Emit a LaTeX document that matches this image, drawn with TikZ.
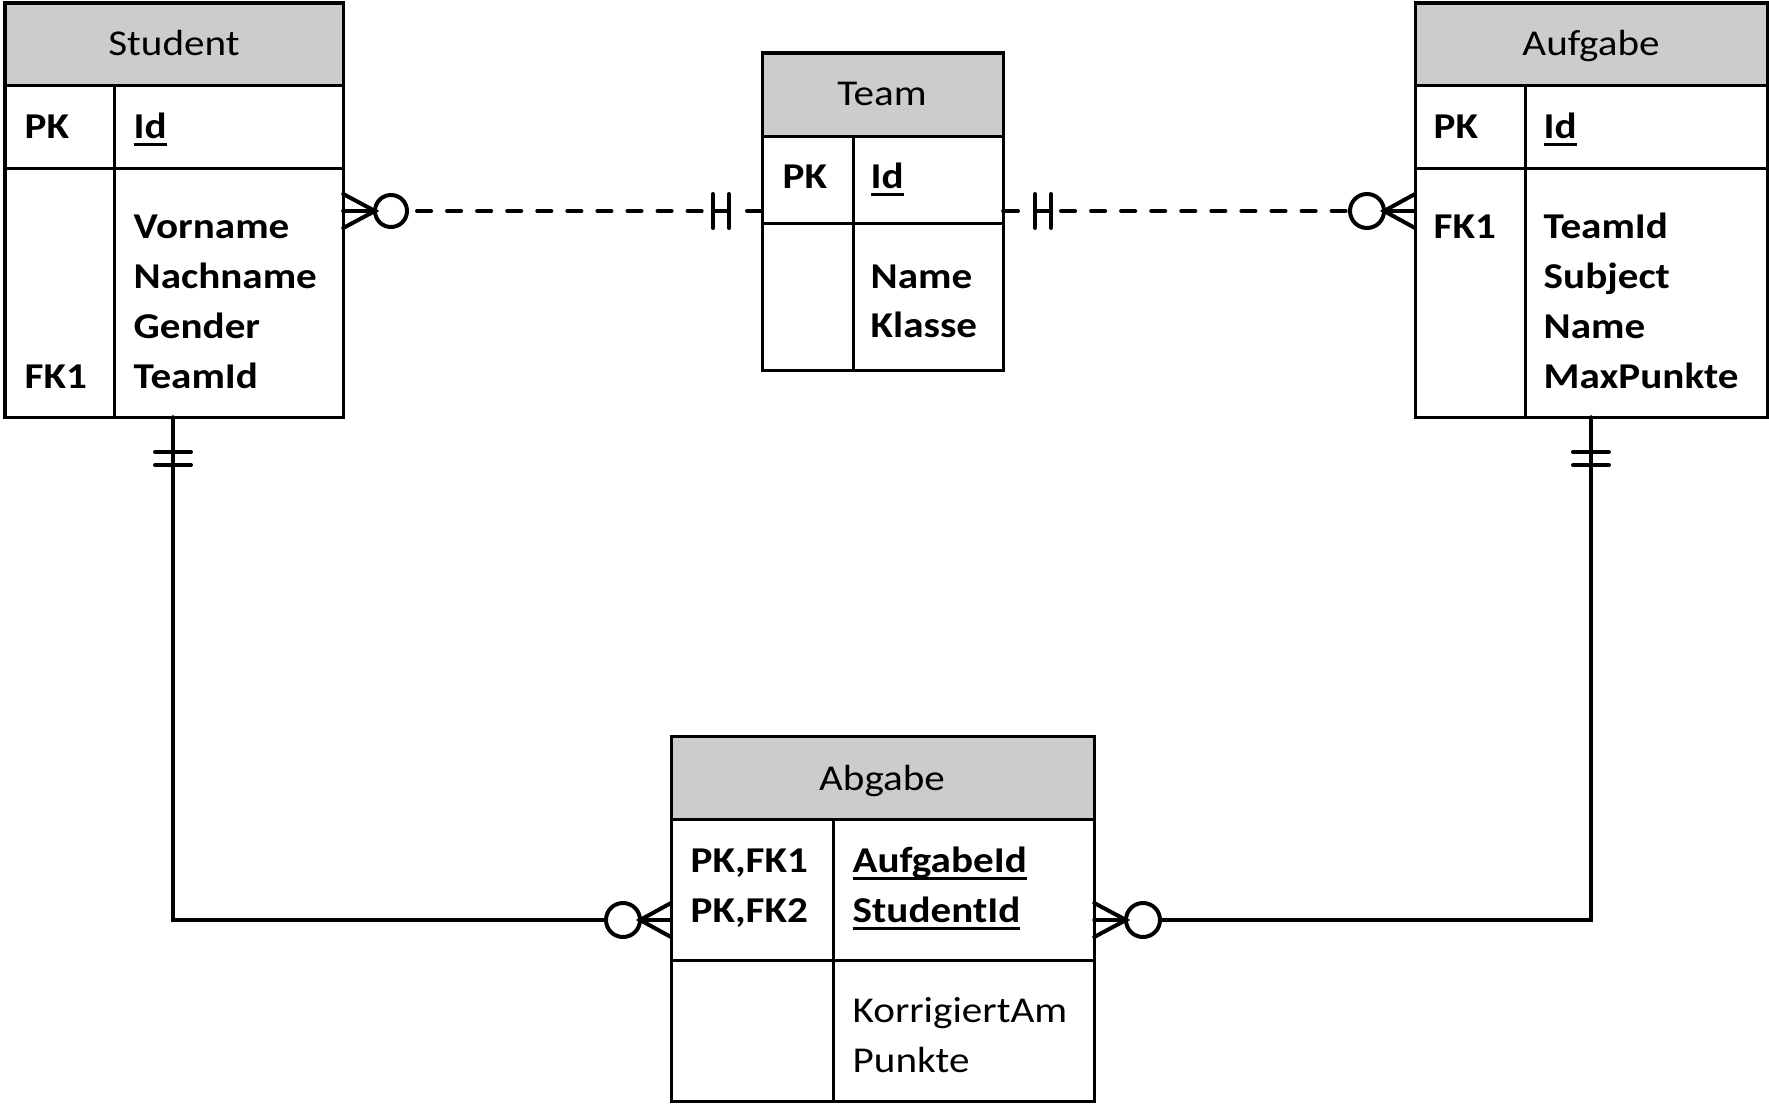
\documentclass[tikz,border=0pt]{standalone}
\usepackage{fontspec}
\setmainfont{Carlito}[FakeStretch=1.13]
\definecolor{hdrgray}{HTML}{CCCCCC}
\newcommand\myul[1]{\setbox0\hbox{#1}\rlap{\rule[-2.3pt]{\wd0}{0.75pt}}\box0}
\begin{document}
\begin{tikzpicture}[x=0.01cm,y=-0.01cm,
  frame/.style={draw=black, line width=0.03cm, outer sep=0pt, inner sep=0pt, anchor=north west},
  hdr/.style={fill=hdrgray, draw=black, line width=0.03cm, outer sep=0pt, inner sep=0pt, anchor=north west},
  sep/.style={line width=0.03cm},
  title/.style={anchor=base, inner sep=0pt, font=\fontsize{10.35pt}{12pt}\selectfont},
  key/.style={anchor=base west, inner sep=0pt, font=\fontsize{10.35pt}{12pt}\selectfont\bfseries},
  plain/.style={anchor=base west, inner sep=0pt, font=\fontsize{10.35pt}{12pt}\selectfont},
  conn/.style={line width=0.04cm, line cap=round},
  dconn/.style={line width=0.04cm, line cap=round, dash pattern=on 4pt off 4.55pt}
]
\useasboundingbox (0,0) rectangle (1769,1106);

% ---------- Student ----------
\node[hdr, minimum width=3.38cm, minimum height=0.82cm] (studenth) at (5,3) {};
\node[frame, minimum width=3.38cm, minimum height=4.14cm] (student) at (5,3) {};
\draw[sep] (5,168) -- (343,168);
\draw[sep] (114,85) -- (114,417);
\node[title] (studentt) at (174,55) {Student};
\node[key] (s1) at (24,138) {PK};
\node[key] (s2) at (133,138) {\myul{Id}};
\node[key] (s3) at (133,238) {Vorname};
\node[key] (s4) at (133,288) {Nachname};
\node[key] (s5) at (133,338) {Gender};
\node[key] (s6) at (24,388) {FK1};
\node[key] (s7) at (133,388) {TeamId};

% ---------- Team ----------
\node[hdr, minimum width=2.41cm, minimum height=0.83cm] (teamh) at (762,53) {};
\node[frame, minimum width=2.41cm, minimum height=3.17cm] (team) at (762,53) {};
\draw[sep] (762,223) -- (1003,223);
\draw[sep] (853,136) -- (853,370);
\node[title] (teamt) at (882,105) {Team};
\node[key] (t1) at (782,188) {PK};
\node[key] (t2) at (870,188) {\myul{Id}};
\node[key] (t3) at (870,288) {Name};
\node[key] (t4) at (870,337) {Klasse};

% ---------- Aufgabe ----------
\node[hdr, minimum width=3.52cm, minimum height=0.82cm] (aufgabeh) at (1415,3) {};
\node[frame, minimum width=3.52cm, minimum height=4.14cm] (aufgabe) at (1415,3) {};
\draw[sep] (1415,168) -- (1767,168);
\draw[sep] (1525,85) -- (1525,417);
\node[title] (aufgabet) at (1591,55) {Aufgabe};
\node[key] (a1) at (1433,138) {PK};
\node[key] (a2) at (1543,138) {\myul{Id}};
\node[key] (a3) at (1433,238) {FK1};
\node[key] (a4) at (1543,238) {TeamId};
\node[key] (a5) at (1543,288) {Subject};
\node[key] (a6) at (1543,338) {Name};
\node[key] (a7) at (1543,388) {MaxPunkte};

% ---------- Abgabe ----------
\node[hdr, minimum width=4.23cm, minimum height=0.83cm] (abgabeh) at (671,736) {};
\node[frame, minimum width=4.23cm, minimum height=3.65cm] (abgabe) at (671,736) {};
\draw[sep] (671,960) -- (1094,960);
\draw[sep] (833,819) -- (833,1101);
\node[title] (abgabet) at (882,790) {Abgabe};
\node[key] (b1) at (690,872) {PK,FK1};
\node[key] (b2) at (690,922) {PK,FK2};
\node[key] (b3) at (852,872) {\myul{AufgabeId}};
\node[key] (b4) at (852,922) {\myul{StudentId}};
\node[plain] (b5) at (852,1022) {KorrigiertAm};
\node[plain] (b6) at (852,1072) {Punkte};

% ---------- connector end points ----------
\coordinate (stR) at (student.east |- 0,211);
\coordinate (tmL) at (team.west |- 0,211);
\coordinate (tmR) at (team.east |- 0,211);
\coordinate (auL) at (aufgabe.west |- 0,211);
\coordinate (stB) at (student.south -| 173,0);
\coordinate (auB) at (aufgabe.south -| 1591,0);
\coordinate (abL) at (abgabe.west |- 0,920);
\coordinate (abR) at (abgabe.east |- 0,920);

% Student -- Team (zero-or-many : one-and-only-one), dashed
\draw[conn] (stR) -- (375,211);
\draw[conn] (stR |- 0,194) -- (375,211) -- (stR |- 0,228);
\draw[conn] (391,211) circle[radius=0.16cm];
\draw[dconn] (417,211) -- (705,211);
\draw[conn] (713,211) -- (729,211);
\draw[conn] (713,194) -- (713,228);
\draw[conn] (729,194) -- (729,228);
\draw[conn] (747,211) -- (tmL);

% Team -- Aufgabe
\draw[conn] (tmR) -- (1018,211);
\draw[conn] (1035,211) -- (1051,211);
\draw[conn] (1035,194) -- (1035,228);
\draw[conn] (1051,194) -- (1051,228);
\draw[dconn] (1061,211) -- (1350,211);
\draw[conn] (1367,211) circle[radius=0.17cm];
\draw[conn] (1384,211) -- (auL);
\draw[conn] (auL |- 0,194) -- (1384,211) -- (auL |- 0,228);

% Student -- Abgabe
\draw[conn] (stB) -- (173,920) -- (606,920);
\draw[conn] (155,452) -- (191,452);
\draw[conn] (155,465) -- (191,465);
\draw[conn] (623,920) circle[radius=0.17cm];
\draw[conn] (640,920) -- (abL);
\draw[conn] (abL |- 0,903) -- (640,920) -- (abL |- 0,937);

% Aufgabe -- Abgabe
\draw[conn] (auB) -- (1591,920) -- (1160,920);
\draw[conn] (1573,452) -- (1609,452);
\draw[conn] (1573,465) -- (1609,465);
\draw[conn] (1143,920) circle[radius=0.17cm];
\draw[conn] (1126,920) -- (abR);
\draw[conn] (abR |- 0,903) -- (1126,920) -- (abR |- 0,937);
\end{tikzpicture}
\end{document}
